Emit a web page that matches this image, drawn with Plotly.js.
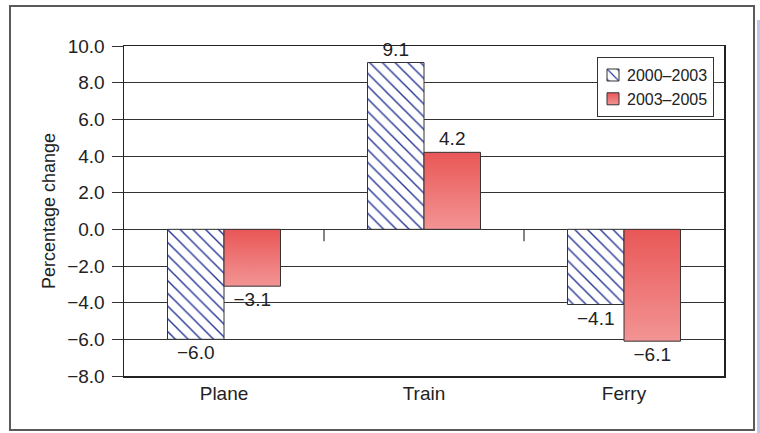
<!DOCTYPE html>
<html>
<head>
<meta charset="utf-8">
<script src="https://cdn.plot.ly/plotly-3.0.1.min.js"></script>
<style>
  html, body { margin: 0; padding: 0; background: #ffffff; }
  #wrap { position: relative; width: 760px; height: 433px; overflow: hidden; }
  #chart { position: absolute; left: 0; top: 0; width: 760px; height: 433px; }
  #frame { position: absolute; left: 9px; top: 5px; width: 746px; height: 426px;
           box-sizing: border-box; border: 2px solid #5a5a5a; pointer-events: none; }
  #strip { position: absolute; left: 757px; top: 20px; width: 3px; height: 413px;
           background: #bfc9e6; pointer-events: none; }
</style>
</head>
<body>
<div id="wrap">
  <div id="chart"></div>
  <div id="frame"></div>
  <div id="strip"></div>
</div>
<script>
// ---- data ----
var categories = ["Plane", "Train", "Ferry"];
var seriesNames = ["2000\u20132003", "2003\u20132005"];
var values2000_2003 = [-6.0, 9.1, -4.1];
var values2003_2005 = [-3.1, 4.2, -6.1];
var yTickVals = [-8, -6, -4, -2, 0, 2, 4, 6, 8, 10];
var yTickText = ["\u22128.0", "\u22126.0", "\u22124.0", "\u22122.0", "0.0", "2.0", "4.0", "6.0", "8.0", "10.0"];
var yTitle = "Percentage change";

function fmt(v) { return v.toFixed(1).replace('-', '\u2212'); }

var FONT = '"Liberation Sans", Arial, Helvetica, sans-serif';

var traces = [
  {
    type: 'bar', name: seriesNames[0], x: categories, y: values2000_2003,
    text: values2000_2003.map(fmt), textposition: 'outside', cliponaxis: false,
    constraintext: 'none',
    textfont: { family: FONT, size: 19, color: '#222' },
    marker: {
      color: '#ffffff',
      line: { color: '#333333', width: 1 },
      pattern: { shape: '\\', fgcolor: '#2b3a98', bgcolor: '#ffffff', size: 9, solidity: 0.16, fillmode: 'replace' }
    },
    hoverinfo: 'x+y'
  },
  {
    type: 'bar', name: seriesNames[1], x: categories, y: values2003_2005,
    text: values2003_2005.map(fmt), textposition: 'outside', cliponaxis: false,
    constraintext: 'none',
    textfont: { family: FONT, size: 19, color: '#222' },
    marker: { color: '#ee7676', line: { color: '#333333', width: 1 } },
    hoverinfo: 'x+y'
  }
];

// category-boundary tick marks hanging from the zero line
var shapes = [];
for (var i = 1; i < categories.length; i++) {
  shapes.push({
    type: 'line', xref: 'x', yref: 'y', ysizemode: 'pixel', yanchor: 0,
    x0: i - 0.5, x1: i - 0.5, y0: 0, y1: -12,
    line: { color: '#333333', width: 1.2 }
  });
}

var layout = {
  width: 760, height: 433,
  margin: { l: 124, r: 36, t: 46, b: 57, pad: 0 },
  paper_bgcolor: '#ffffff', plot_bgcolor: '#ffffff',
  font: { family: FONT, size: 16, color: '#222' },
  barmode: 'group', bargap: 0.435, bargroupgap: 0,
  showlegend: true,
  legend: {
    x: 0.788, y: 0.967, xanchor: 'left', yanchor: 'top',
    bgcolor: '#ffffff', bordercolor: '#333333', borderwidth: 1.2,
    font: { family: FONT, size: 16, color: '#222' },
    tracegroupgap: 2, itemwidth: 30
  },
  xaxis: {
    type: 'category', showgrid: false, zeroline: false,
    showline: true, mirror: true, linecolor: '#222', linewidth: 1.5,
    ticks: '', tickfont: { family: FONT, size: 19, color: '#222' },
    fixedrange: true
  },
  yaxis: {
    range: [-8, 10], tickmode: 'array', tickvals: yTickVals, ticktext: yTickText,
    ticks: 'outside', ticklen: 11, tickcolor: '#333', tickwidth: 1,
    ticklabelstandoff: 3,
    showgrid: true, gridcolor: '#333333', gridwidth: 1,
    zeroline: true, zerolinecolor: '#333333', zerolinewidth: 1.2,
    showline: true, mirror: true, linecolor: '#222', linewidth: 1.5,
    tickfont: { family: FONT, size: 19, color: '#222' },
    title: { text: yTitle, font: { family: FONT, size: 18, color: '#222' }, standoff: 7 },
    fixedrange: true
  },
  shapes: shapes
};

Plotly.newPlot('chart', traces, layout, { displayModeBar: false, staticPlot: true }).then(function (gd) {
  var svg = gd.querySelector('svg.main-svg');
  var ns = 'http://www.w3.org/2000/svg';
  var defs = svg.querySelector('defs');
  var grad = document.createElementNS(ns, 'linearGradient');
  grad.setAttribute('id', 'redgrad');
  grad.setAttribute('x1', '0'); grad.setAttribute('y1', '0');
  grad.setAttribute('x2', '0'); grad.setAttribute('y2', '1');
  var s1 = document.createElementNS(ns, 'stop');
  s1.setAttribute('offset', '0'); s1.setAttribute('stop-color', '#e95757');
  var s2 = document.createElementNS(ns, 'stop');
  s2.setAttribute('offset', '1'); s2.setAttribute('stop-color', '#f39494');
  grad.appendChild(s1); grad.appendChild(s2);
  defs.appendChild(grad);
  var barTraces = gd.querySelectorAll('.barlayer .trace');
  if (barTraces.length > 1) {
    barTraces[1].querySelectorAll('path').forEach(function (p) { p.style.fill = 'url(#redgrad)'; });
  }
  var legTraces = gd.querySelectorAll('.legend .traces');
  if (legTraces.length > 1) {
    legTraces[1].querySelectorAll('.legendpoints path').forEach(function (p) { p.style.fill = 'url(#redgrad)'; });
  }
  // tighten legend: pull swatches and texts left, shrink the box
  var shift = 11;
  gd.querySelectorAll('.legend .traces').forEach(function (t) {
    var txt = t.querySelector('text.legendtext');
    if (txt) txt.setAttribute('x', String(parseFloat(txt.getAttribute('x')) - shift));
    var pts = t.querySelector('.legendpoints');
    if (pts) pts.setAttribute('transform', 'translate(' + (-shift + 6) + ',0)');
  });
  var bg = gd.querySelector('.legend rect.bg');
  if (bg) bg.setAttribute('width', String(parseFloat(bg.getAttribute('width')) - shift));
});
</script>
</body>
</html>
